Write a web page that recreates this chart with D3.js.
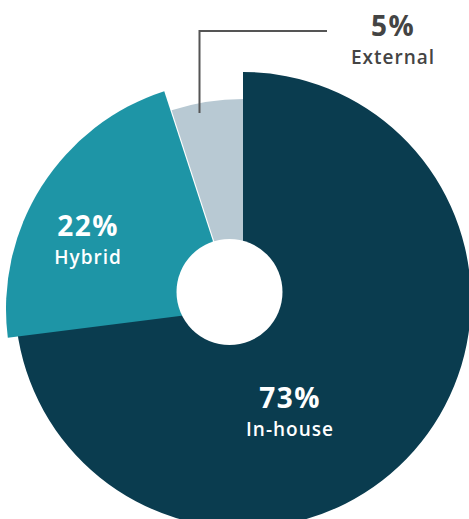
<!DOCTYPE html>
<html>
<head>
<meta charset="utf-8">
<script src="https://cdn.jsdelivr.net/npm/d3@7/dist/d3.min.js"></script>
<style>
  body { margin: 0; background: #fff; }
  svg text { font-family: "Open Sans", Lato, sans-serif; }
</style>
</head>
<body>
<div id="chart"></div>
<script>
// data
var categories = ['In-house', 'Hybrid', 'External'];
var shares = [73, 22, 5];
var shareLabels = ['73%', '22%', '5%'];

// look of each slice (hand placed, the original is slightly offset per slice)
var sliceColors = ['#0a3c4f', '#1e95a6', '#b8c9d3'];
var sliceCenters = [[243, 300], [235, 309], [243, 330]];
var sliceRadius = [228, 229, 231];

const w = 469;
const h = 519;

const svg = d3.select('#chart')
  .append('svg')
  .attr('width', w)
  .attr('height', h);

var pie = d3.pie().sort(null).value(function(d) { return d; });
var arcs = pie(shares);

svg.selectAll('path.slice')
  .data(arcs)
  .enter()
  .append('path')
  .attr('class', 'slice')
  .attr('transform', function(d, i) { return 'translate(' + sliceCenters[i][0] + ',' + sliceCenters[i][1] + ')'; })
  .attr('fill', function(d, i) { return sliceColors[i]; })
  .attr('d', function(d, i) {
    return d3.arc().innerRadius(0).outerRadius(sliceRadius[i])(d);
  });

// white hole in the middle
svg.append('circle')
  .attr('cx', 229.5)
  .attr('cy', 292)
  .attr('r', 53)
  .attr('fill', '#fff');

// leader line for the small slice
svg.append('path')
  .attr('d', 'M199.5,113V31H327')
  .attr('fill', 'none')
  .attr('stroke', '#555')
  .attr('stroke-width', 2);

// labels
var labelPos = [[290, 408, 436], [88, 236, 264], [393, 36, 64]];
var labelColor = ['#fff', '#fff', '#444'];

var lab = svg.selectAll('g.lab')
  .data(categories)
  .enter()
  .append('g')
  .attr('class', 'lab');

lab.append('text')
  .attr('x', function(d, i) { return labelPos[i][0]; })
  .attr('y', function(d, i) { return labelPos[i][1]; })
  .attr('text-anchor', 'middle')
  .attr('fill', function(d, i) { return labelColor[i]; })
  .style('font-size', '28px')
  .style('font-weight', 700)
  .style('letter-spacing', '1.5px')
  .text(function(d, i) { return shareLabels[i]; });

lab.append('text')
  .attr('x', function(d, i) { return labelPos[i][0]; })
  .attr('y', function(d, i) { return labelPos[i][2]; })
  .attr('text-anchor', 'middle')
  .attr('fill', function(d, i) { return labelColor[i]; })
  .style('font-size', '19px')
  .style('font-weight', 600)
  .style('letter-spacing', '1px')
  .text(function(d) { return d; });
</script>
</body>
</html>
